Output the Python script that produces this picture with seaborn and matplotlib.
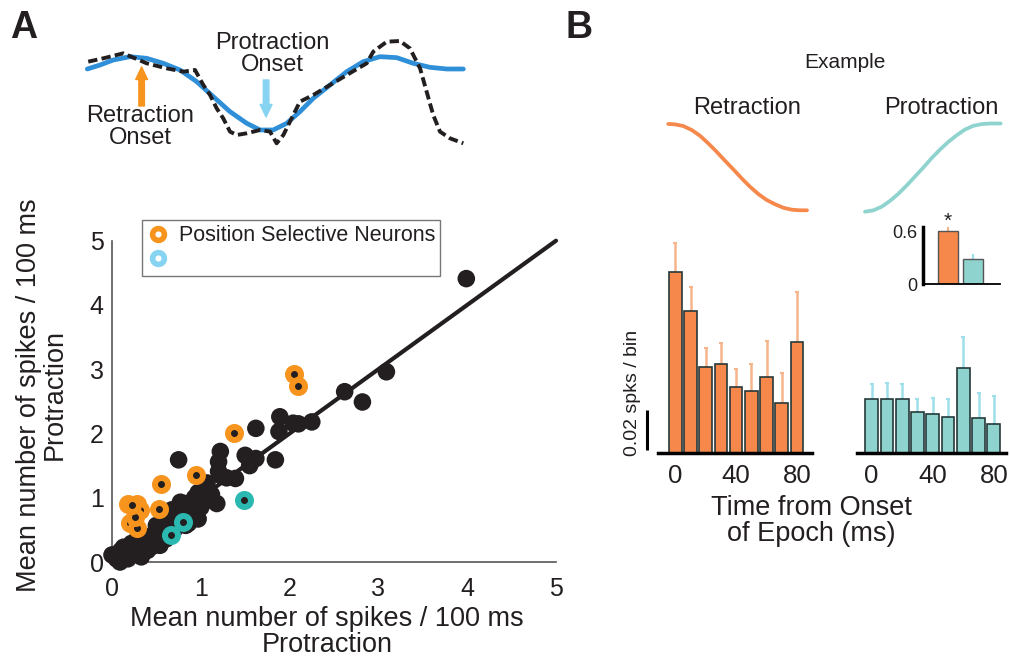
import numpy as np
import pandas as pd
import matplotlib
matplotlib.use("Agg")
import matplotlib.pyplot as plt
import seaborn as sns
from matplotlib.lines import Line2D

# ---------------- DATA ----------------
# Panel A, top: whisker trace (time in ms, angle in deg)
trace_t = [0, 6.8, 13.8, 22.7, 31.6, 40.4, 49.3, 58.2, 67.0, 75.9, 84.8, 91.9, 98.9,
           106.1, 113.1, 120.2, 129.1, 138.0, 146.8, 155.7, 164.6, 173.4, 182.3, 191.2, 200]
trace_fit = [22.3, 23.5, 25.0, 26.0, 25.5, 24.0, 22.0, 18.5, 14.0, 9.5, 6.0, 4.0, 4.0,
             6.0, 9.5, 13.5, 17.5, 21.5, 24.5, 26.0, 25.7, 24.0, 22.8, 22.3, 22.3]
raw_t = [0.5, 8.5, 19.1, 25.4, 31.6, 42.2, 51.1, 57.3, 61.7, 65.3, 68.8, 72.3, 75.9,
         79.5, 84.8, 91.9, 97.2, 100.7, 104.3, 107.8, 113.1, 120.2, 129.1, 138.0,
         148.6, 152.1, 159.3, 166.3, 171.6, 177.0, 180.5, 184.0, 187.6, 192.9, 200]
raw_angle = [24.5, 25.5, 27.0, 25.5, 24.0, 22.5, 21.5, 22.0, 17.5, 14.5, 10.5, 7.5, 3.5,
             2.5, 3.0, 4.0, 3.5, 0.0, 2.5, 6.5, 12.5, 14.5, 17.5, 20.5,
             24.0, 27.5, 30.5, 30.7, 28.5, 22.5, 15.5, 8.5, 3.5, 1.5, 0.0]
retraction_onset_t = 28.9
protraction_onset_t = 95.1

# Panel A, scatter: mean spikes / 100 ms
black_x = [0.00, 0.09, 0.05, 0.13, 0.20, 0.15, 0.22, 0.25, 0.29, 0.30, 0.33, 0.37, 0.40,
           0.44, 0.45, 0.50, 0.52, 0.54, 0.58, 0.61, 0.65, 0.62, 0.70, 0.72, 0.75, 0.78,
           0.82, 0.83, 0.86, 0.86, 0.90, 0.93, 0.93, 0.97, 0.97, 1.00, 1.04, 1.05, 1.07,
           1.09, 1.12, 1.18, 1.20, 1.20, 1.22, 1.22, 1.29, 1.39, 0.75, 1.50, 1.55, 1.62,
           1.62, 1.84, 1.88, 1.89, 2.04, 2.10, 2.25, 2.62, 2.82, 3.09, 3.99, 0.35, 0.28,
           0.48, 0.68, 0.58, 0.40, 0.18, 0.10, 0.55, 0.67, 0.77]
black_y = [0.11, 0.00, 0.05, 0.23, 0.17, 0.10, 0.29, 0.12, 0.16, 0.25, 0.08, 0.21, 0.30,
           0.36, 0.24, 0.57, 0.34, 0.26, 0.45, 0.36, 0.72, 0.55, 0.50, 0.65, 0.58, 0.80,
           0.91, 0.57, 0.77, 0.60, 0.70, 0.92, 1.00, 1.08, 0.67, 0.85, 1.02, 1.12, 1.23,
           0.97, 1.05, 0.91, 1.41, 1.56, 1.35, 1.72, 1.31, 1.30, 1.59, 1.66, 1.50, 1.61,
           2.08, 1.59, 2.03, 2.26, 2.16, 2.15, 2.18, 2.65, 2.49, 2.96, 4.41, 0.40, 0.35,
           0.45, 0.80, 0.62, 0.18, 0.05, 0.18, 0.50, 0.81, 0.93]
sel_retr_x = [2.05, 2.10, 1.37, 0.95, 0.55, 0.53, 0.18, 0.28, 0.32, 0.20, 0.28, 0.26, 0.22]
sel_retr_y = [2.93, 2.74, 2.00, 1.35, 1.22, 0.82, 0.91, 0.91, 0.81, 0.60, 0.53, 0.70, 0.88]
sel_prot_x = [1.49, 0.80, 0.66]
sel_prot_y = [0.97, 0.63, 0.42]
identity_x = [0, 5]
identity_y = [0, 5]
scatter_ticks = [0, 1, 2, 3, 4, 5]
legend_labels = ["Position Selective Neurons", " "]

# Panel B: example whisk shapes (normalised position)
retr_shape_t = [0.2, 5.0, 11.0, 17.1, 23.0, 29.0, 35.0, 41.0, 47.0, 53.0, 59.0, 65.0,
                71.0, 77.0, 83.0, 89.0, 95.0, 100.0]
retr_shape_p = [0.989, 0.985, 0.966, 0.921, 0.857, 0.771, 0.677, 0.576, 0.479, 0.378,
                0.284, 0.202, 0.135, 0.087, 0.048, 0.026, 0.019, 0.019]
prot_shape_t = [0, 6.1, 12.2, 18.2, 24.3, 30.4, 36.5, 42.6, 48.7, 54.7, 60.8, 66.9,
                73.0, 79.1, 85.2, 91.2, 99.0]
prot_shape_p = [0.003, 0.019, 0.060, 0.125, 0.205, 0.299, 0.401, 0.503, 0.610, 0.705,
                0.792, 0.867, 0.932, 0.974, 0.993, 1.0, 1.0]

# Panel B: PSTH (spikes / bin)
bin_times = [0, 10, 20, 30, 40, 50, 60, 70, 80]
retr_rate = [0.0908, 0.0713, 0.0430, 0.0447, 0.0330, 0.0313, 0.0380, 0.0253, 0.0555]
retr_err = [0.0142, 0.0120, 0.0095, 0.0103, 0.0092, 0.0134, 0.0183, 0.0147, 0.0250]
prot_rate = [0.0272, 0.0272, 0.0272, 0.0205, 0.0197, 0.0180, 0.0425, 0.0175, 0.0145]
prot_err = [0.0075, 0.0078, 0.0075, 0.0067, 0.0081, 0.0092, 0.0158, 0.0125, 0.0143]
time_ticks = [0, 40, 80]
scale_bar_len = 0.02

# Panel B inset: mean rate
inset_cats = ["Retraction", "Protraction"]
inset_vals = [0.61, 0.287]
inset_err = [0.05, 0.064]
inset_ticks = [0, 0.6]
inset_minor = [0.2, 0.4]

# ---------------- STYLE ----------------
sns.set_theme(style="white")
plt.rcParams['font.family'] = ['Liberation Sans', 'DejaVu Sans']
TXT = '#231f20'
plt.rcParams['text.color'] = TXT
ORANGE_A = '#f7941d'
TEAL_A = '#2bb8b0'
LBLUE = '#86d3f2'
BLUE = '#2f8fd8'
ORANGE_B = '#f5884a'
TEAL_B = '#8fd3cf'
ORANGE_ERR = '#f6b48c'
TEAL_ERR = '#9ee0ea'
EDGE = '#26393a'

W, H = 1010, 662
fig = plt.figure(figsize=(W / 100, H / 100), dpi=100)


def rect(x0, y0, x1, y1):
    """pixel box (left, top, right, bottom) -> figure rect"""
    return [x0 / W, 1 - y1 / H, (x1 - x0) / W, (y1 - y0) / H]


def fx(px):
    return px / W


def fy(py):
    return 1 - py / H


# ---------------- Panel A: trace diagram ----------------
axT = fig.add_axes(rect(87.3, 40, 463.3, 143.3))
sns.lineplot(x=trace_t, y=trace_fit, color=BLUE, lw=3.4, ax=axT, clip_on=False, zorder=2)
sns.lineplot(x=raw_t, y=raw_angle, color=TXT, lw=2.8, ax=axT, clip_on=False, zorder=3)
axT.lines[-1].set_dashes([2.4, 1.1])
axT.set_xlim(0, 200)
axT.set_ylim(0, 31)
axT.axis('off')
axT.annotate('', xy=(retraction_onset_t, 22.9), xytext=(retraction_onset_t, 11.2),
             arrowprops=dict(arrowstyle='simple,head_length=0.9,head_width=0.85,tail_width=0.4',
                             color=ORANGE_A, shrinkA=0, shrinkB=0, mutation_scale=10))
axT.annotate('', xy=(protraction_onset_t, 7.9), xytext=(protraction_onset_t, 19.0),
             arrowprops=dict(arrowstyle='simple,head_length=0.9,head_width=0.85,tail_width=0.4',
                             color=LBLUE, shrinkA=0, shrinkB=0, mutation_scale=10))
fig.text(fx(140), fy(127), 'Retraction\nOnset', ha='center', va='center', fontsize=17,
         linespacing=1.0)
fig.text(fx(272), fy(54), 'Protraction\nOnset', ha='center', va='center', fontsize=17,
         linespacing=1.0)

fig.text(fx(10), fy(38.5), 'A', fontsize=27, fontweight='bold', va='baseline', ha='left')
fig.text(fx(565), fy(38.5), 'B', fontsize=27, fontweight='bold', va='baseline', ha='left')

# ---------------- Panel A: scatter ----------------
ax = fig.add_axes(rect(112, 240.7, 556, 562))
sns.lineplot(x=identity_x, y=identity_y, color=TXT, lw=3.0, ax=ax, clip_on=False, zorder=2)
sns.scatterplot(x=black_x, y=black_y, s=160, color=TXT, edgecolor='none', ax=ax,
                clip_on=False, zorder=3)
sns.scatterplot(x=sel_retr_x, y=sel_retr_y, s=88, color=TXT, edgecolor=ORANGE_A,
                linewidth=4.3, ax=ax, clip_on=False, zorder=4)
sns.scatterplot(x=sel_prot_x, y=sel_prot_y, s=88, color=TXT, edgecolor=TEAL_A,
                linewidth=4.3, ax=ax, clip_on=False, zorder=4)
ax.set_xlim(0, 5)
ax.set_ylim(0, 5)
ax.set_xticks(scatter_ticks)
ax.set_yticks(scatter_ticks)
for s in ['top', 'right']:
    ax.spines[s].set_visible(False)
for s in ['left', 'bottom']:
    ax.spines[s].set_color('#555555')
    ax.spines[s].set_linewidth(1.2)
ax.tick_params(axis='both', direction='in', length=9, width=1.2, color='#555555',
               labelsize=18, labelcolor=TXT)
ax.tick_params(axis='x', pad=11)
ax.tick_params(axis='y', pad=6)
ax.set_xlabel('Mean number of spikes / 100 ms\nProtraction', fontsize=19.5, color=TXT,
              linespacing=1.0)
ax.xaxis.set_label_coords((327 - 112) / 444, (562 - 606) / 321.3)
ax.xaxis.label.set_va('top')
ax.set_ylabel('Mean number of spikes / 100 ms\nProtraction', fontsize=19.5, color=TXT,
              linespacing=1.0)
ax.yaxis.set_label_coords((68 - 112) / 444, 0.52)

h1 = Line2D([], [], ls='none', marker='o', markersize=8.5, markerfacecolor='white',
            markeredgecolor=ORANGE_A, markeredgewidth=4.0)
h2 = Line2D([], [], ls='none', marker='o', markersize=8.5, markerfacecolor='white',
            markeredgecolor=LBLUE, markeredgewidth=4.0)
leg = ax.legend([h1, h2], legend_labels, loc='upper left',
                bbox_to_anchor=((142 - 112) / 444, (562 - 220) / 321.3), borderaxespad=0,
                frameon=True, fancybox=False, edgecolor='#555555', fontsize=15.5,
                handlelength=1.0, handletextpad=0.45, borderpad=0.25, labelspacing=0.15)
leg.get_frame().set_linewidth(1.0)
for t in leg.get_texts():
    t.set_color(TXT)

# ---------------- Panel B: titles and shapes ----------------
fig.text(fx(845), fy(62), 'Example', ha='center', va='center', fontsize=15)
fig.text(fx(746.7), fy(108), 'Retraction', ha='center', va='center', fontsize=17)
fig.text(fx(941), fy(108), 'Protraction', ha='center', va='center', fontsize=17)

axS1 = fig.add_axes(rect(668, 123, 807, 212))
sns.lineplot(x=retr_shape_t, y=retr_shape_p, color=ORANGE_B, lw=2.7, ax=axS1, clip_on=False)
axS1.set_xlim(0, 100)
axS1.set_ylim(0, 1)
axS1.axis('off')

axS2 = fig.add_axes(rect(865, 123.5, 1002, 212))
sns.lineplot(x=prot_shape_t, y=prot_shape_p, color=TEAL_B, lw=2.7, ax=axS2, clip_on=False)
axS2.set_xlim(0, 100)
axS2.set_ylim(0, 1)
axS2.axis('off')


# ---------------- Panel B: PSTHs ----------------
def psth(axp, vals, errs, color, ecolor, xlim):
    sns.barplot(x=bin_times, y=vals, native_scale=True, width=0.83, color=color,
                edgecolor=EDGE, linewidth=1.2, saturation=1, errorbar=None, ax=axp,
                zorder=2)
    axp.errorbar(bin_times, vals, yerr=[np.zeros(len(vals)), errs], fmt='none',
                 ecolor=ecolor, elinewidth=1.8, capsize=1.2, capthick=1.5, zorder=1)
    axp.set_xlim(*xlim)
    axp.set_ylim(0, 0.11)
    axp.set_xticks(time_ticks)
    axp.set_xticklabels([str(t) for t in time_ticks])
    axp.set_yticks([])
    axp.set_xlabel('')
    axp.set_ylabel('')
    for s in ['top', 'right', 'left']:
        axp.spines[s].set_visible(False)
    axp.spines['bottom'].set_color('black')
    axp.spines['bottom'].set_linewidth(2.5)
    axp.spines['bottom'].set_zorder(5)
    axp.tick_params(axis='x', direction='in', length=4, width=2.5, color='black',
                    labelsize=18.5, labelcolor=TXT, pad=8)
    for tl in axp.xaxis.get_ticklines():
        tl.set_zorder(6)


axL = fig.add_axes(rect(658, 233.3, 812, 453.3))
psth(axL, retr_rate, retr_err, ORANGE_B, ORANGE_ERR, (-11.4, 89.9))
axR = fig.add_axes(rect(856.7, 233.3, 1006, 453.3))
psth(axR, prot_rate, prot_err, TEAL_B, TEAL_ERR, (-9.8, 88.0))

# scale bar
axL.plot([-18.8, -18.8], [0.0017, 0.0017 + scale_bar_len], color='black', lw=2.2,
         clip_on=False, solid_capstyle='butt')
fig.text(fx(632.5), fy(393), '0.02 spks / bin', rotation=90, ha='center', va='center',
         fontsize=14)

fig.text(fx(811), fy(521), 'Time from Onset\nof Epoch (ms)', ha='center', va='center',
         fontsize=19.5, linespacing=1.0)

# ---------------- Panel B inset ----------------
axI = fig.add_axes(rect(922.7, 226.7, 1000, 284.3))
sns.barplot(x=inset_cats, y=inset_vals, hue=inset_cats, palette=[ORANGE_B, TEAL_B],
            width=0.79, edgecolor='#555555', linewidth=1.0, saturation=1, errorbar=None,
            legend=False, ax=axI, zorder=2)
eb = axI.errorbar([0, 1], inset_vals, yerr=[[0, 0], inset_err], fmt='none',
                  elinewidth=1.6, zorder=1)
for coll in eb.lines[2]:
    coll.set_color([ORANGE_ERR, TEAL_ERR])
axI.set_xlim(-1.02, 2.1)
axI.set_ylim(0, 0.66)
axI.set_xticks([])
axI.set_yticks(inset_ticks)
axI.set_yticklabels(['0', '0.6'])
axI.set_yticks(inset_minor, minor=True)
axI.set_xlabel('')
axI.set_ylabel('')
for s in ['top', 'right']:
    axI.spines[s].set_visible(False)
axI.spines['left'].set_color('black')
axI.spines['left'].set_linewidth(2.5)
axI.spines['bottom'].set_color('black')
axI.spines['bottom'].set_linewidth(1.3)
axI.tick_params(axis='y', which='major', direction='in', length=3, width=1, color='#444444',
                labelsize=13, labelcolor=TXT, pad=4)
axI.tick_params(axis='y', which='minor', direction='in', length=2, width=1, color='#444444')
axI.text(0, 0.72, '*', ha='center', va='center', fontsize=15, color=TXT)

fig.savefig('out.png', dpi=100)
